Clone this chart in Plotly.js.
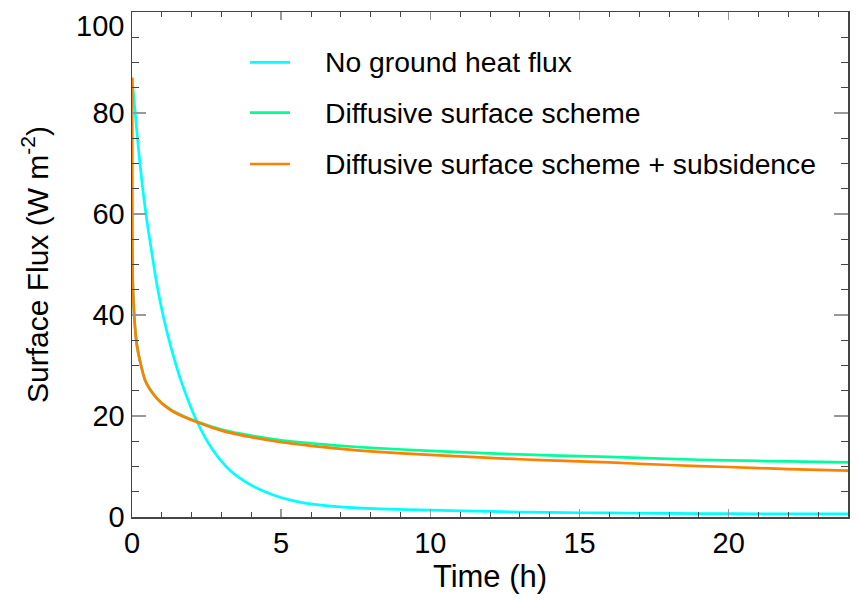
<!DOCTYPE html>
<html>
<head>
<meta charset="utf-8">
<script src="https://cdn.plot.ly/plotly-3.0.1.min.js"></script>
<style>
  html, body { margin: 0; padding: 0; background: #fff; }
  #chart { width: 859px; height: 602px; }
</style>
</head>
<body>
<div id="chart"></div>
<script>
// Series names
const seriesNames = [
  "No ground heat flux",
  "Diffusive surface scheme",
  "Diffusive surface scheme + subsidence"
];

// No ground heat flux (cyan)
const timeNoGround = [0, 0.1, 0.2, 0.33, 0.49, 0.66, 0.83, 1.05, 1.33, 1.67, 2.17, 2.67, 3.29, 3.96, 4.5, 4.96, 5.5, 6.1, 7.2, 8.3, 10, 12, 14, 16, 18, 20, 22, 24];
const fluxNoGround = [87, 80.5, 74, 66.5, 59, 52.5, 46.2, 39.7, 33.1, 26.5, 19.0, 13.6, 9.2, 6.4, 4.9, 3.9, 3.1, 2.5, 1.9, 1.6, 1.35, 1.1, 0.9, 0.8, 0.7, 0.65, 0.6, 0.6];

// Diffusive schemes (shared time axis)
const timeDiffusive = [0, 0.005, 0.015, 0.04, 0.1, 0.16, 0.27, 0.44, 0.6, 0.85, 1.1, 1.4, 2.17, 3.06, 4.0, 5, 6, 7, 8, 10, 12, 14, 16, 18, 20, 22, 24];
const fluxDiffusive = [87, 62, 50, 44, 37.7, 34.2, 30.8, 27.1, 25.3, 23.4, 22.1, 20.9, 18.9, 17.2, 16.1, 15.2, 14.6, 14.1, 13.7, 13.1, 12.6, 12.2, 11.9, 11.5, 11.2, 11.0, 10.8];
const fluxSubsidence = [87, 62, 50, 44, 37.7, 34.2, 30.8, 27.1, 25.3, 23.4, 22.0, 20.8, 18.8, 17.0, 15.8, 14.8, 14.1, 13.5, 13.0, 12.3, 11.7, 11.2, 10.8, 10.3, 9.9, 9.5, 9.2];

// Axis ticks
const xTickVals = [0, 5, 10, 15, 20];
const yTickVals = [0, 20, 40, 60, 80];
const yTopTick = 100; // label drawn just below the top edge, as in the original

const colors = ["#00FFFF", "#00FF99", "#FF7F00"];

const traces = [
  {x: timeNoGround, y: fluxNoGround, name: seriesNames[0]},
  {x: timeDiffusive, y: fluxDiffusive, name: seriesNames[1]},
  {x: timeDiffusive, y: fluxSubsidence, name: seriesNames[2]}
].map((t, i) => Object.assign(t, {
  type: "scatter", mode: "lines",
  line: {color: colors[i], width: 2.7, shape: "spline", smoothing: 0.8},
  showlegend: false
}));

const font = "Liberation Sans, Arial, Helvetica, sans-serif";

// Legend drawn in paper coordinates (sample line + label per series)
const legendY = [0.9004, 0.8006, 0.699];
const legendShapes = seriesNames.map((n, i) => ({
  type: "line", xref: "paper", yref: "paper",
  x0: 0.1648, x1: 0.2207, y0: legendY[i], y1: legendY[i],
  line: {color: colors[i], width: 2.7}
}));
const annotations = seriesNames.map((n, i) => ({
  text: n, xref: "paper", yref: "paper",
  x: 0.2668, y: legendY[i], xanchor: "left", yanchor: "middle",
  showarrow: false, font: {family: font, size: 28.3, color: "#000"}
}));
// top y tick label
annotations.push({
  text: String(yTopTick), xref: "paper", yref: "y",
  x: 0, y: yTopTick, xanchor: "right", yanchor: "top",
  xshift: -6, yshift: 4, showarrow: false,
  font: {family: font, size: 29, color: "#000"}
});

const layout = {
  width: 859, height: 602,
  margin: {l: 132, r: 11, t: 12, b: 85},
  paper_bgcolor: "#fff", plot_bgcolor: "#fff",
  font: {family: font, color: "#000", size: 28},
  showlegend: false,
  shapes: legendShapes,
  annotations: annotations,
  xaxis: {
    range: [0, 24], autorange: false,
    tickvals: xTickVals,
    ticks: "inside", ticklen: 8, tickcolor: "#999", tickwidth: 1.5,
    minor: {dtick: 1, ticks: "inside", ticklen: 5, tickcolor: "#444", tickwidth: 1},
    showline: true, linecolor: "#444", linewidth: 1.5, mirror: "ticks",
    showgrid: false, zeroline: false,
    tickfont: {family: font, size: 29, color: "#000"},
    title: {text: "Time (h)", font: {family: font, size: 31, color: "#000"}, standoff: 6}
  },
  yaxis: {
    range: [0, 100], autorange: false,
    tickvals: yTickVals,
    ticks: "inside", ticklen: 14, tickcolor: "#999", tickwidth: 2,
    minor: {dtick: 5, ticks: "inside", ticklen: 7, tickcolor: "#444", tickwidth: 1},
    showline: true, linecolor: "#444", linewidth: 1.5, mirror: "ticks",
    showgrid: false, zeroline: false,
    tickfont: {family: font, size: 29, color: "#000"},
    title: {text: "Surface Flux (W m<sup>-2</sup>)", font: {family: font, size: 30, color: "#000"}, standoff: 35}
  }
};

Plotly.newPlot("chart", traces, layout, {displayModeBar: false, staticPlot: true});
</script>
</body>
</html>
